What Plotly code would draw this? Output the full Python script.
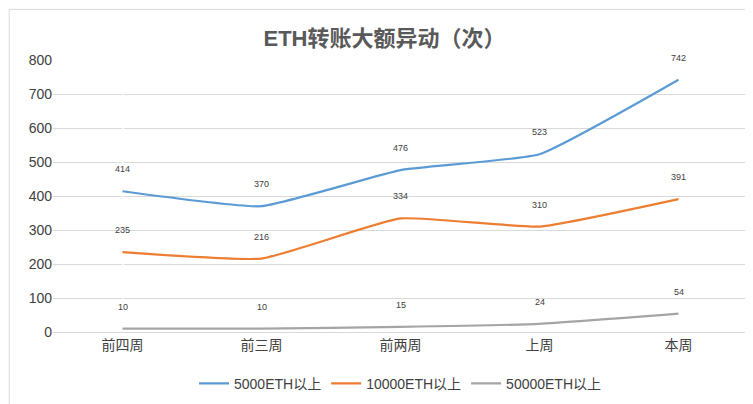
import plotly.graph_objects as go

categories = ["前四周", "前三周", "前两周", "上周", "本周"]
s5000 = [414, 370, 476, 523, 742]
s10000 = [235, 216, 334, 310, 391]
s50000 = [10, 10, 15, 24, 54]
names = ["5000ETH以上", "10000ETH以上", "50000ETH以上"]
colors = ["#5b9bd5", "#ed7d31", "#a5a5a5"]

fig = go.Figure()
annos = []
for name, vals, c in zip(names, [s5000, s10000, s50000], colors):
    fig.add_trace(go.Scatter(
        x=list(range(len(categories))), y=vals, name=name, mode="lines",
        line=dict(color=c, width=2.2, shape="spline", smoothing=0.4),
    ))
    for i, v in enumerate(vals):
        annos.append(dict(x=i, y=v, text=str(v), showarrow=False, yshift=22,
                          font=dict(size=9, color="#404040",
                                    family="Liberation Sans, sans-serif")))

fig.update_layout(
    width=753, height=404,
    paper_bgcolor="white", plot_bgcolor="white",
    font=dict(family="Liberation Sans, Noto Sans CJK SC, sans-serif", color="#404040"),
    title=dict(text="<b>ETH转账大额异动（次）</b>", x=0.5, xanchor="center", y=0.945,
               font=dict(size=22, color="#595959")),
    margin=dict(l=45, r=13, t=52, b=76),
    xaxis=dict(showgrid=False, showline=True, linecolor="#d9d9d9",
               range=[-0.5, 4.5], tickmode="array",
               tickvals=list(range(len(categories))), ticktext=categories,
               tickfont=dict(size=14, color="#404040"), ticks=""),
    yaxis=dict(range=[0, 800], dtick=100, gridcolor="#d9d9d9", zeroline=False,
               tickfont=dict(size=14, color="#404040")),
    legend=dict(orientation="h", x=0.5, xanchor="center", y=-0.19, yanchor="middle",
                font=dict(size=14, color="#404040")),
    annotations=annos,
    shapes=[dict(type="rect", xref="paper", yref="paper", x0=-0.063, x1=1.017,
                 y0=-0.27, y1=1.186, line=dict(color="#d9d9d9", width=1))],
)
fig.write_html("out.html")
